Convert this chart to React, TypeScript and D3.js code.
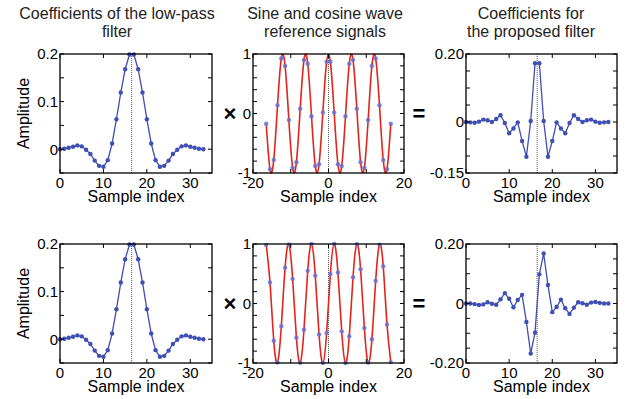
import * as d3 from "d3";

// ── Data ──────────────────────────────────────────────────────
const SAMPLE_IDX = d3.range(34);
const CENTER = 16.5;

const LOWPASS = [0, 0.001, 0.003, 0.005, 0.008, 0.006, -0.001, -0.010, -0.024, -0.035, -0.037, -0.023, 0.012, 0.063, 0.119, 0.168, 0.199,
  0.199, 0.168, 0.119, 0.063, 0.012, -0.023, -0.037, -0.035, -0.024, -0.010, -0.001, 0.006, 0.008, 0.005, 0.003, 0.001, 0];

const COSINE = [-0.172, -0.935, -0.780, 0.140, 0.924, 0.800, -0.109, -0.911, -0.818, 0.079, 0.898, 0.836, -0.047, -0.884, -0.853, 0.016, 0.869,
  0.869, 0.016, -0.853, -0.884, -0.047, 0.836, 0.898, 0.079, -0.818, -0.911, -0.109, 0.800, 0.924, 0.140, -0.780, -0.935, -0.172];

const SINE = [0.985, 0.354, -0.625, -0.990, -0.383, 0.600, 0.994, 0.412, -0.575, -0.997, -0.440, 0.549, 0.999, 0.468, -0.522, -1.000, -0.495,
  0.495, 1.000, 0.522, -0.468, -0.999, -0.549, 0.440, 0.997, 0.575, -0.412, -0.994, -0.600, 0.383, 0.990, 0.625, -0.354, -0.985];

const PROPOSED_COS = [0, -0.001, -0.002, 0.001, 0.007, 0.005, 0.000, 0.009, 0.020, -0.003, -0.033, -0.019, -0.001, -0.056, -0.102, 0.003, 0.173,
  0.173, 0.003, -0.102, -0.056, -0.001, -0.019, -0.033, -0.003, 0.020, 0.009, 0.000, 0.005, 0.007, 0.001, -0.002, -0.001, 0];

const PROPOSED_SIN = [0, 0.000, -0.002, -0.005, -0.003, 0.004, -0.001, -0.004, 0.014, 0.035, 0.016, -0.013, 0.012, 0.029, -0.062, -0.168, -0.098,
  0.098, 0.168, 0.062, -0.029, -0.012, 0.013, -0.016, -0.035, -0.014, 0.004, 0.001, -0.004, 0.003, 0.005, 0.002, 0.000, 0];

const TITLES = [
  ["Coefficients of the low-pass", "filter"],
  ["Sine and cosine wave", "reference signals"],
  ["Coefficients for", "the proposed filter"],
];

// ── Style ─────────────────────────────────────────────────────
const FONT = "'Liberation Sans', Arial, Helvetica, sans-serif";
const BLUE = "#3f4fb3";
const RED = "#e3241c";
const DOT_BLUE = "#6a6fd0";

interface Tick { v: number; label?: string }

interface PanelProps {
  left: number; top: number; w: number; h: number;
  xDomain: [number, number]; yDomain: [number, number];
  xTicks: Tick[]; yTicks: Tick[];
  xs: number[]; ys: number[];
  vline: number;
  wave?: boolean;
  yLabel?: boolean;
}

function Panel({ left, top, w, h, xDomain, yDomain, xTicks, yTicks, xs, ys, vline, wave, yLabel }: PanelProps) {
  const x = d3.scaleLinear().domain(xDomain).range([left, left + w]);
  const y = d3.scaleLinear().domain(yDomain).range([top + h, top]);
  const pts = xs.map((v, i) => [v, ys[i]] as [number, number]);
  const line = d3.line<[number, number]>()
    .x((d) => x(d[0])).y((d) => y(d[1]))
    .curve(wave ? d3.curveNatural : d3.curveLinear);
  const TL = 4;

  return (
    <g>
      {/* dotted centre line */}
      <line x1={x(vline)} x2={x(vline)} y1={top} y2={top + h}
        stroke="#555" strokeWidth={1} strokeDasharray="1,1" />

      <path d={line(pts) ?? ""} fill="none" stroke={wave ? RED : BLUE} strokeWidth={wave ? 1.6 : 1.3} />
      {pts.map((d, i) => (
        <circle key={i} cx={x(d[0])} cy={y(d[1])} r={2.2}
          fill={wave ? DOT_BLUE : BLUE} opacity={wave ? 0.85 : 1} />
      ))}

      {/* inward ticks on all four sides */}
      {yTicks.map((t) => (
        <g key={`y${t.v}`}>
          <line x1={left} x2={left + TL} y1={y(t.v)} y2={y(t.v)} stroke="#000" />
          <line x1={left + w} x2={left + w - TL} y1={y(t.v)} y2={y(t.v)} stroke="#000" />
          {t.label !== undefined && (
            <text x={left - 2} y={y(t.v)} dy="0.36em" textAnchor="end" fontSize={15}>{t.label}</text>
          )}
        </g>
      ))}
      {xTicks.map((t) => (
        <g key={`x${t.v}`}>
          <line x1={x(t.v)} x2={x(t.v)} y1={top + h} y2={top + h - TL} stroke="#000" />
          <line x1={x(t.v)} x2={x(t.v)} y1={top} y2={top + TL} stroke="#000" />
          {t.label !== undefined && (
            <text x={x(t.v)} y={top + h + 15} textAnchor="middle" fontSize={15}>{t.label}</text>
          )}
        </g>
      ))}

      <rect x={left} y={top} width={w} height={h} fill="none" stroke="#000" strokeWidth={1.3} />

      <text x={left + w / 2} y={top + h + 29} textAnchor="middle" fontSize={16}>Sample index</text>
      {yLabel && (
        <text transform={`translate(${left - 31},${top + h / 2}) rotate(-90)`} textAnchor="middle" fontSize={16}>
          Amplitude
        </text>
      )}
    </g>
  );
}

export default function App() {
  const W = 152;
  const H = 119;
  const COLS = [60, 253, 466];
  const ROWS = [54, 244];
  const TITLE_X = [117, 325, 531];

  const tIdx = SAMPLE_IDX.map((i) => i - CENTER);

  const lpTicksY: Tick[] = [
    { v: -0.05 }, { v: 0, label: "0" }, { v: 0.05 }, { v: 0.1, label: "0.1" }, { v: 0.15 }, { v: 0.2, label: "0.2" },
  ];
  const idxTicks: Tick[] = [{ v: 0, label: "0" }, { v: 10, label: "10" }, { v: 20, label: "20" }, { v: 30, label: "30" }];
  const waveTicksY: Tick[] = d3.range(-5, 6).map((k) => {
    const v = k / 5;
    return { v, label: k === -5 ? "-1" : k === 0 ? "0" : k === 5 ? "1" : undefined };
  });
  const waveTicksX: Tick[] = [{ v: -20, label: "-20" }, { v: -10 }, { v: 0, label: "0" }, { v: 10 }, { v: 20, label: "20" }];
  const propTicksTop: Tick[] = d3.range(-3, 5).map((k) => {
    const v = k * 0.05;
    return { v, label: k === -3 ? "-0.15" : k === 0 ? "0" : k === 4 ? "0.20" : undefined };
  });
  const propTicksBot: Tick[] = d3.range(-4, 5).map((k) => {
    const v = k * 0.05;
    return { v, label: k === -4 ? "-0.20" : k === 0 ? "0" : k === 4 ? "0.20" : undefined };
  });

  const rows = [
    { wave: COSINE, prop: PROPOSED_COS, propDomain: [-0.15, 0.2] as [number, number], propTicks: propTicksTop },
    { wave: SINE, prop: PROPOSED_SIN, propDomain: [-0.2, 0.2] as [number, number], propTicks: propTicksBot },
  ];

  return (
    <svg width={626} height={399} style={{ position: "absolute", left: 0, top: 0, background: "#fff" }}
      fontFamily={FONT} fill="#000">
      {TITLES.map((lines, i) => (
        <text key={i} x={TITLE_X[i]} y={19} textAnchor="middle" fontSize={16} fill="#222">
          <tspan x={TITLE_X[i]} dy={0}>{lines[0]}</tspan>
          <tspan x={TITLE_X[i]} dy={18}>{lines[1]}</tspan>
        </text>
      ))}

      {rows.map((r, ri) => {
        const top = ROWS[ri];
        const mid = top + H / 2;
        return (
          <g key={ri}>
            <Panel left={COLS[0]} top={top} w={W} h={H} xDomain={[0, 35]} yDomain={[-0.05, 0.2]}
              xTicks={idxTicks} yTicks={lpTicksY} xs={SAMPLE_IDX} ys={LOWPASS} vline={CENTER} yLabel />
            <Panel left={COLS[1]} top={top} w={W - 1} h={H} xDomain={[-20, 20]} yDomain={[-1, 1]}
              xTicks={waveTicksX} yTicks={waveTicksY} xs={tIdx} ys={r.wave} vline={0} wave />
            <Panel left={COLS[2]} top={top} w={W - 1} h={H} xDomain={[0, 35]} yDomain={r.propDomain}
              xTicks={idxTicks} yTicks={r.propTicks} xs={SAMPLE_IDX} ys={r.prop} vline={CENTER} />
            <text x={230} y={mid} dy="0.35em" textAnchor="middle" fontSize={22} fontWeight="bold">×</text>
            <text x={419} y={mid} dy="0.35em" textAnchor="middle" fontSize={22} fontWeight="bold">=</text>
          </g>
        );
      })}
    </svg>
  );
}
